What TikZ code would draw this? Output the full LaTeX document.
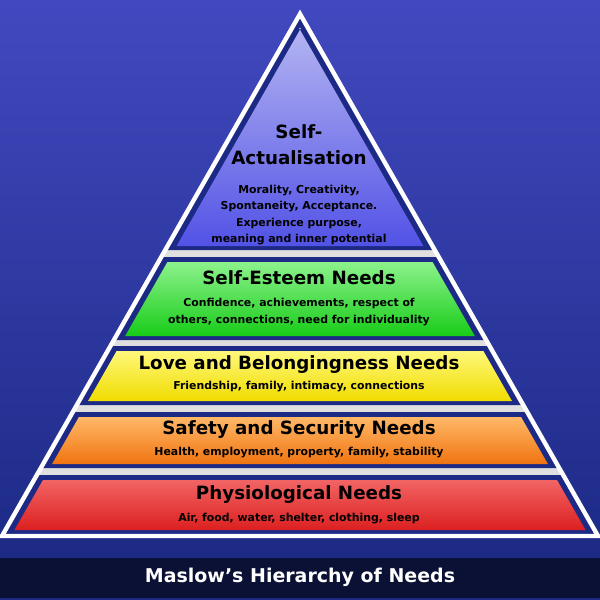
\documentclass[tikz,border=0pt]{standalone}
\usepackage{fontspec}
\setmainfont{DejaVu Sans}
\usetikzlibrary{positioning}
\definecolor{navy}{HTML}{1C2A85}
\definecolor{deepnavy}{HTML}{0B1035}
\definecolor{actA}{HTML}{B4B4F2}\definecolor{actB}{HTML}{5252E6}
\definecolor{estA}{HTML}{8CF28C}\definecolor{estB}{HTML}{18CC18}
\definecolor{lovA}{HTML}{FFF87A}\definecolor{lovB}{HTML}{F0DC00}
\definecolor{safA}{HTML}{FFB868}\definecolor{safB}{HTML}{F07410}
\definecolor{phyA}{HTML}{F26464}\definecolor{phyB}{HTML}{DC2020}
\tikzset{
  head/.style={font=\bfseries\fontsize{26}{30}\selectfont, text=black},
  body/.style={font=\bfseries\fontsize{15.5}{23.5}\selectfont, text=black, align=center},
}
\begin{document}
\begin{tikzpicture}[x=0.5mm,y=-0.5mm]
\useasboundingbox (0,0) rectangle (600,600);
% background
\shade[top color=blue!35!navy!80!white, bottom color=navy] (0,0) rectangle (600,558);
\fill[deepnavy] (0,558) rectangle (600,598);
\fill[navy] (0,598) rectangle (600,600);
% pyramid frame
\fill[gray!25] (300,14) -- (2,536) -- (598,536) -- cycle;
\foreach \t/\b in {14/250, 257/340, 346/405, 412/468, 475/534}
  \fill[navy] ({300-0.5709*(\t-14)},\t) -- ({300-0.5709*(\b-14)},\b) -- ({300+0.5709*(\b-14)},\b) -- ({300+0.5709*(\t-14)},\t) -- cycle;
\draw[white, line width=2.2mm, line join=miter] (300,14) -- (2,536) -- (598,536) -- cycle;
% tiers
\foreach \t/\b/\ca/\cb in {28/246/actA/actB, 262/336/estA/estB, 351/401/lovA/lovB, 417/464/safA/safB, 480/530/phyA/phyB}
  \shade[top color=\ca, bottom color=\cb] ({300-0.5709*(\t-14)+9},\t) -- ({300-0.5709*(\b-14)+9},\b) -- ({300+0.5709*(\b-14)-9},\b) -- ({300+0.5709*(\t-14)-9},\t) -- cycle;
% labels
\node[head] (selfhead) at (299,132) {Self-};
\node[head] (acthead) at (299,158) {Actualisation};
\node[body] (actbody) at (299,215) {Morality, Creativity,\\Spontaneity, Acceptance.\\Experience purpose,\\meaning and inner potential};
\node[head] (esteemhead) at (299,278) {Self-Esteem Needs};
\node[body] (esteembody) at (299,312) {Confidence, achievements, respect of\\others, connections, need for individuality};
\node[head] (lovehead) at (299,365) {Love and Belongingness Needs};
\node[body] (lovebody) at (299,387) {Friendship, family, intimacy, connections};
\node[head] (safehead) at (299,430) {Safety and Security Needs};
\node[body] (safebody) at (299,453) {Health, employment, property, family, stability};
\node[head] (physhead) at (299,495) {Physiological Needs};
\node[body] (physbody) at (299,519) {Air, food, water, shelter, clothing, sleep};
\node[head, text=white, font=\bfseries\fontsize{27}{30}\selectfont] (title) at (300,577) {Maslow’s Hierarchy of Needs};
\end{tikzpicture}
\end{document}
